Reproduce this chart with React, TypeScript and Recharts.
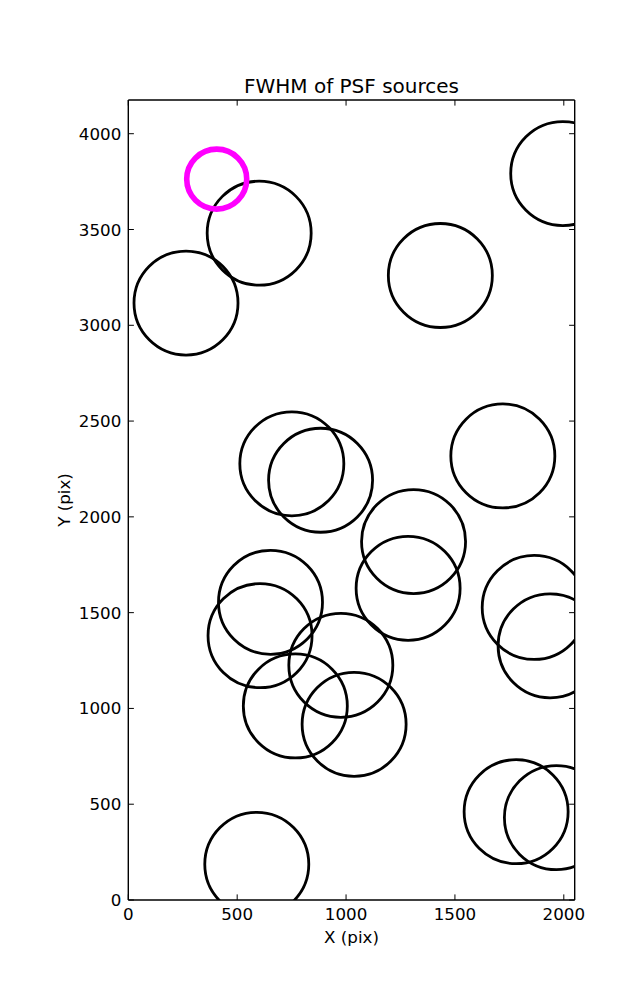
import React from 'react';
import { ScatterChart, Scatter, XAxis, YAxis } from 'recharts';

// source centres (detector pixels)
const sourceX = [265, 601, 1433, 1995, 751, 883, 653, 605, 1720, 1310, 1285, 1864, 1937, 976, 767, 1037, 590, 1781, 1966];
const sourceY = [3116, 3481, 3260, 3792, 2277, 2191, 1554, 1380, 2318, 1871, 1627, 1527, 1327, 1225, 1013, 917, 186, 461, 430];

// the highlighted source
const markedX = [406];
const markedY = [3763];

const xTicks = [0, 500, 1000, 1500, 2000];
const yTicks = [0, 500, 1000, 1500, 2000, 2500, 3000, 3500, 4000];

const sources = sourceX.map((x, i) => ({ x, y: sourceY[i] }));
const marked = markedX.map((x, i) => ({ x, y: markedY[i] }));

const FONT = '"DejaVu Sans", sans-serif';
const TICK_LEN = 5.6;

const makeTick = (side: 'bottom' | 'top' | 'left' | 'right') => (props: any) => {
  const { x, y, payload } = props;
  if (side === 'bottom') {
    return (
      <g>
        <line x1={x} y1={y} x2={x} y2={y - TICK_LEN} stroke="#000" strokeWidth={1} />
        <text x={x} y={y + 14} textAnchor="middle" dominantBaseline="central" fontSize={16.7} fontFamily={FONT} fill="#000">
          {payload.value}
        </text>
      </g>
    );
  }
  if (side === 'top') {
    return <line x1={x} y1={y} x2={x} y2={y + TICK_LEN} stroke="#000" strokeWidth={1} />;
  }
  if (side === 'left') {
    return (
      <g>
        <line x1={x} y1={y} x2={x + TICK_LEN} y2={y} stroke="#000" strokeWidth={1} />
        <text x={x - 7} y={y} textAnchor="end" dominantBaseline="central" fontSize={16.7} fontFamily={FONT} fill="#000">
          {payload.value}
        </text>
      </g>
    );
  }
  return <line x1={x} y1={y} x2={x - TICK_LEN} y2={y} stroke="#000" strokeWidth={1} />;
};

const ring = (r: number, color: string, w: number) => (props: any) => (
  <circle cx={props.cx} cy={props.cy} r={r} fill="none" stroke={color} strokeWidth={w} />
);

const axisLine = { stroke: '#000', strokeWidth: 1.4 };

export default function App() {
  return (
    <div style={{ position: 'absolute', left: 0, top: 0, width: 637, height: 1000, background: '#fff', fontFamily: FONT }}>
      <ScatterChart width={637} height={1000} margin={{ top: 99, right: 61.3, bottom: 99, left: 127.3 }}>
        <Scatter xAxisId="b" yAxisId="l" data={sources} shape={ring(52, '#000', 2.8)} isAnimationActive={false} />
        <Scatter xAxisId="b" yAxisId="l" data={marked} shape={ring(30, '#ff00ff', 5.6)} isAnimationActive={false} />
        <XAxis
          xAxisId="b"
          type="number"
          dataKey="x"
          domain={[0, 2050]}
          ticks={xTicks}
          allowDataOverflow
          height={1}
          tickSize={0}
          tickMargin={0}
          tickLine={false}
          tick={makeTick('bottom')}
          axisLine={axisLine}
        />
        <XAxis
          xAxisId="t"
          orientation="top"
          type="number"
          dataKey="x"
          domain={[0, 2050]}
          ticks={xTicks}
          allowDataOverflow
          height={1}
          tickSize={0}
          tickMargin={0}
          tickLine={false}
          tick={makeTick('top')}
          axisLine={axisLine}
        />
        <YAxis
          yAxisId="l"
          type="number"
          dataKey="y"
          domain={[0, 4176]}
          ticks={yTicks}
          allowDataOverflow
          width={1}
          tickSize={0}
          tickMargin={0}
          tickLine={false}
          tick={makeTick('left')}
          axisLine={axisLine}
        />
        <YAxis
          yAxisId="r"
          orientation="right"
          type="number"
          dataKey="y"
          domain={[0, 4176]}
          ticks={yTicks}
          allowDataOverflow
          width={1}
          tickSize={0}
          tickMargin={0}
          tickLine={false}
          tick={makeTick('right')}
          axisLine={axisLine}
        />
      </ScatterChart>
      <div style={{ position: 'absolute', left: 128.3, width: 446.4, top: 74, textAlign: 'center', fontSize: 20, lineHeight: '24px' }}>
        FWHM of PSF sources
      </div>
      <div style={{ position: 'absolute', left: 128.3, width: 446.4, top: 927, textAlign: 'center', fontSize: 16.7, lineHeight: '20px' }}>
        X (pix)
      </div>
      <div
        style={{
          position: 'absolute',
          left: 64 - 50,
          top: 500 - 10,
          width: 100,
          textAlign: 'center',
          fontSize: 16.7,
          lineHeight: '20px',
          transform: 'rotate(-90deg)',
        }}
      >
        Y (pix)
      </div>
    </div>
  );
}
